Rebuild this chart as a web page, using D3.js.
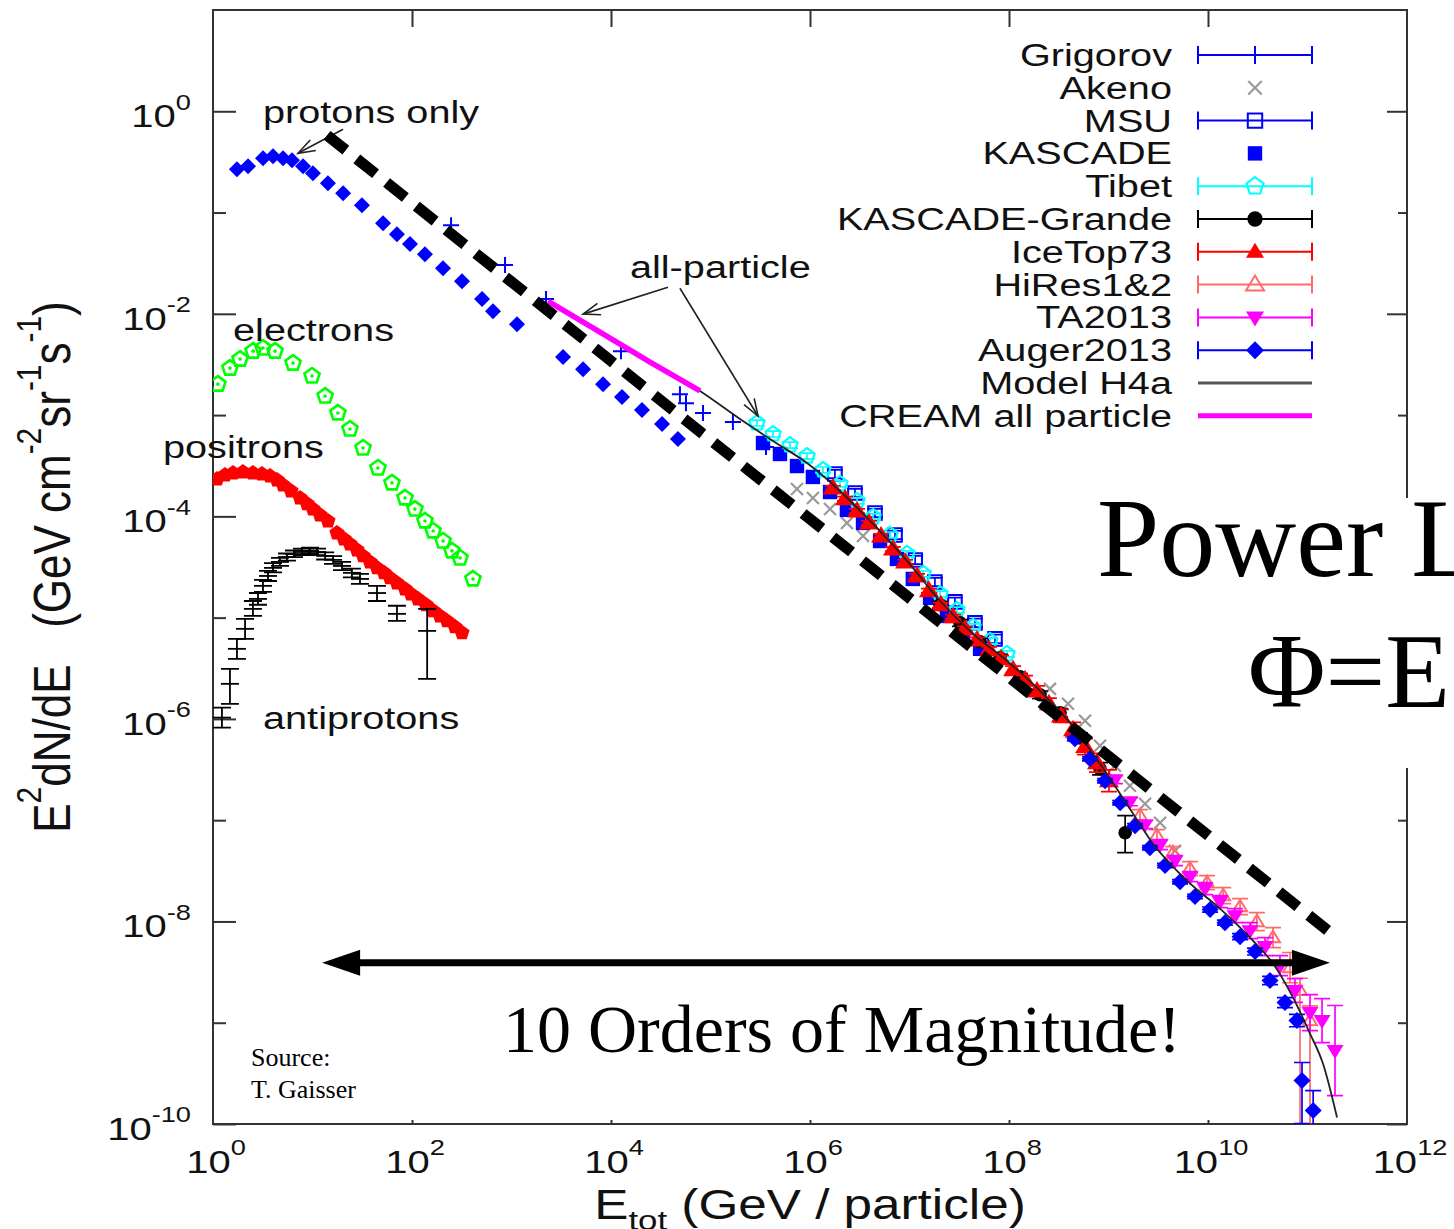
<!DOCTYPE html>
<html>
<head>
<meta charset="utf-8">
<script src="https://cdn.jsdelivr.net/npm/d3@7"></script>
<style>
  body { margin: 0; background: #fff; }
  svg { display: block; }
  text { white-space: pre; }
</style>
</head>
<body>
<svg id="chart" width="1454" height="1229"></svg>
<script>
// ---- data: [E (GeV), E^2 dN/dE] ----
// optional 3rd value = relative error, or 3rd+4th = lower / upper bound
const protons = [[1.74,0.268],[2.25,0.286],[3.18,0.344],[4.01,0.360],[5.06,0.344],[6.22,0.329],[8.04,0.286],[10.1,0.244],[14.3,0.195],[20.3,0.155],[31.4,0.118],[51.2,0.0785],[70.6,0.0611],[95.5,0.0488],[135,0.0388],[205,0.0282],[318,0.0210],[506,0.0140],[652,0.0106],[1135,0.0079],[3296,0.00374],[5236,0.00284],[8318,0.00202],[12900,0.00151],[20500,0.00112],[32600,0.000816],[47100,0.000581]];

const electrons = [[1.12,2.02e-3],[1.48,2.91e-3],[1.87,3.57e-3],[2.53,4.28e-3],[3.18,4.59e-3],[4.20,4.28e-3],[6.37,3.26e-3],[9.89,2.43e-3],[13.4,1.54e-3],[18.0,1.05e-3],[23.8,7.28e-4],[32.2,4.73e-4],[45.5,3.00e-4],[62.9,2.14e-4],[85.1,1.52e-4],[107,1.18e-4],[135,9.01e-5],[163,7.18e-5],[205,5.71e-5],[252,4.56e-5],[304,3.88e-5],[410,2.41e-5]];

const positrons = [[1.10,2.34e-4],[1.32,2.56e-4],[1.59,2.68e-4],[2.00,2.74e-4],[2.52,2.68e-4],[3.11,2.62e-4],[3.74,2.50e-4],[4.40,2.29e-4],[5.06,2.04e-4],[6.08,1.78e-4],[7.49,1.52e-4],[8.81,1.33e-4],[10.1,1.18e-4],[11.9,1.03e-4],[14.3,9.01e-5],[17.6,6.86e-5],[20.7,5.98e-5],[23.8,5.34e-5],[28.0,4.66e-5],[32.2,4.07e-5],[37.8,3.55e-5],[44.5,3.10e-5],[52.3,2.77e-5],[60.1,2.47e-5],[70.6,2.20e-5],[85.1,1.92e-5],[97.7,1.71e-5],[115,1.53e-5],[138,1.34e-5],[163,1.17e-5],[191,1.04e-5],[225,9.29e-6],[270,8.11e-6],[318,7.08e-6]];

const antiprotons = [[1.23,1.03e-6,8.2e-7,1.29e-6],[1.48,2.22e-6,1.41e-6,3.12e-6],[1.74,4.92e-6,3.92e-6,6.17e-6],[2.10,7.75e-6,6.17e-6,9.72e-6],[2.52,1.22e-5,1.04e-5,1.46e-5],[2.83,1.53e-5,1.34e-5,1.75e-5],[3.18,2.06e-5,1.80e-5,2.36e-5],[3.57,2.58e-5,2.30e-5,2.90e-5],[4.01,3.10e-5,2.80e-5,3.45e-5],[4.71,3.55e-5,3.25e-5,3.90e-5],[5.54,3.97e-5,3.65e-5,4.30e-5],[6.52,4.25e-5,3.95e-5,4.60e-5],[7.84,4.45e-5,4.15e-5,4.80e-5],[9.44,4.56e-5,4.25e-5,4.90e-5],[11.1,4.45e-5,4.15e-5,4.80e-5],[13.4,4.07e-5,3.75e-5,4.40e-5],[16.1,3.72e-5,3.40e-5,4.05e-5],[19.8,3.24e-5,2.95e-5,3.55e-5],[24.9,2.77e-5,2.50e-5,3.05e-5],[30.0,2.41e-5,2.15e-5,2.70e-5],[44.5,1.75e-5,1.46e-5,2.06e-5],[70.6,1.09e-5,9.29e-6,1.31e-5],[142,7.40e-6,2.49e-6,1.22e-5]];

const grigorov = [[247,0.0750],[861,0.0303],[2223,0.0140],[12600,4.28e-3],[49300,1.61e-3],[56700,1.31e-3],[84100,1.05e-3],[1.68e5,8.54e-4],[3.61e5,4.84e-4]];

const akeno = [[7.40e5,1.86e-4],[1.07e6,1.52e-4],[1.59e6,1.18e-4],[2.35e6,8.61e-5],[3.41e6,6.41e-5],[2.58e8,1.98e-6,1.73e-6,2.27e-6],[3.92e8,1.41e-6,1.23e-6,1.62e-6],[5.81e8,9.57e-7,7.98e-7,1.15e-6],[8.22e8,5.43e-7,4.33e-7,6.81e-7],[1.16e9,3.44e-7,2.63e-7,4.51e-7],[1.64e9,2.19e-7,1.55e-7,3.09e-7],[2.33e9,1.45e-7,9.67e-8,2.18e-7],[3.30e9,9.44e-8,5.36e-8,1.66e-7],[4.66e9,5.00e-8,2.02e-8,1.24e-7]];

const msu = [[1.78e6,2.62e-4,.1],[2.83e6,1.70e-4,.1],[4.50e6,1.08e-4,.1],[7.15e6,6.55e-5,.1],[1.14e7,3.71e-5,.1],[1.80e7,2.25e-5,.1],[2.86e7,1.43e-5,.1],[4.55e7,8.87e-6,.1],[7.23e7,6.17e-6,.1]];

const kascade = [[3.37e5,5.30e-4],[4.99e5,4.13e-4],[7.40e5,3.14e-4],[1.07e6,2.45e-4],[1.59e6,1.74e-4],[2.35e6,1.16e-4],[3.41e6,8.61e-5],[5.06e6,5.71e-5],[7.48e6,3.80e-5],[1.08e7,2.41e-5],[1.61e7,1.57e-5],[2.38e7,1.04e-5],[3.45e7,7.08e-6],[5.12e7,4.92e-6]];

const tibet = [[2.93e5,8.35e-4,.07],[4.25e5,6.50e-4,.07],[6.30e5,5.06e-4,.07],[9.33e5,3.94e-4,.07],[1.35e6,2.87e-4,.07],[2.00e6,2.09e-4,.07],[2.97e6,1.42e-4,.07],[4.30e6,9.87e-5,.07],[6.37e6,6.55e-5,.07],[9.44e6,4.26e-5,.07],[1.37e7,2.70e-5,.07],[2.03e7,1.71e-5,.07],[3.00e7,1.19e-5,.07],[4.35e7,8.11e-6,.07],[6.44e7,5.90e-6,.07],[9.55e7,4.39e-6,.07]];

const kascadeGrande = [[2.03e7,1.34e-5,.08],[3.22e7,8.87e-6,.08],[5.12e7,5.77e-6,.08],[8.13e7,4.01e-6,.08],[1.29e8,2.60e-6,.08],[2.05e8,1.73e-6,.09],[3.26e8,1.15e-6,.1],[5.17e8,6.50e-7,.12],[8.22e8,3.22e-7,.15],[1.47e9,7.52e-8,4.78e-8,1.11e-7]];

const iceTop73 = [[1.70e6,1.91e-4,.05],[2.25e6,1.49e-4,.05],[2.97e6,1.13e-4,.05],[3.92e6,8.61e-5,.05],[5.18e6,6.41e-5,.05],[6.82e6,4.77e-5,.05],[9.02e6,3.55e-5,.05],[1.19e7,2.58e-5,.05],[1.57e7,1.84e-5,.05],[2.07e7,1.34e-5,.05],[2.74e7,1.02e-5,.05],[3.61e7,7.74e-6,.06],[4.77e7,6.03e-6,.06],[6.30e7,4.81e-6,.07],[8.32e7,3.92e-6,.08],[1.10e8,3.05e-6,.09],[1.45e8,2.43e-6,.1],[1.91e8,1.89e-6,.12],[2.52e8,1.41e-6,.14],[3.33e8,1.07e-6,.16],[4.40e8,7.82e-7,.18],[5.81e8,5.31e-7,.2],[7.66e8,3.69e-7,.24],[1.01e9,2.45e-7,.28]];

const hiRes = [[2.07e9,1.11e-7,.146],[3.07e9,7.03e-8,.146],[4.45e9,4.78e-8,.146],[6.59e9,3.32e-8,.172],[9.77e9,2.42e-8,.172],[1.42e10,1.80e-8,.2],[2.10e10,1.40e-8,.2],[3.10e10,9.95e-9,.227],[4.50e10,6.92e-9,.255],[6.67e10,3.50e-9,.41],[8.41e10,2.08e-9,5e-11,2.75e-9],[1.06e11,1.05e-9,5e-11,1.47e-9]];

const ta2013 = [[1.16e9,2.51e-7,.095],[1.64e9,1.52e-7,.095],[2.33e9,9.02e-8,.095],[3.30e9,5.73e-8,.12],[4.66e9,3.98e-8,.12],[6.59e9,2.77e-8,.12],[9.33e9,2.11e-8,.146],[1.32e10,1.57e-8,.146],[1.87e10,1.14e-8,.172],[2.64e10,8.11e-9,.2],[3.74e10,5.64e-9,.227],[5.29e10,3.66e-9,.255],[7.48e10,2.08e-9,.31],[1.06e11,1.26e-9,.505],[1.40e11,1.05e-9,.65],[1.89e11,5.31e-10,1.91e-10,1.48e-9]];

const auger2013 = [[4.60e8,6.36e-7,.05],[6.52e8,4.04e-7,.05],[9.23e8,2.45e-7,.05],[1.31e9,1.49e-7,.05],[1.85e9,8.81e-8,.05],[2.61e9,5.35e-8,.05],[3.70e9,3.56e-8,.05],[5.24e9,2.47e-8,.05],[7.40e9,1.76e-8,.05],[1.05e10,1.31e-8,.06],[1.48e10,9.73e-9,.06],[2.10e10,7.08e-9,.07],[2.97e10,5.04e-9,.08],[4.20e10,2.61e-9,.1],[5.94e10,1.58e-9,.12],[7.83e10,1.05e-9,.15],[8.81e10,2.69e-10,1.01e-10,4.05e-10],[1.14e11,1.36e-10,5e-11,2.14e-10]];

const modelH4a = [[2.33e3,1.33e-2],[7.75e3,6.60e-3],[2.47e4,3.34e-3],[7.84e4,1.73e-3],[1.98e5,9.14e-4],[4.25e5,5.55e-4],[9.33e5,3.36e-4],[2.00e6,1.78e-4],[4.30e6,8.41e-5],[9.44e6,3.63e-5],[2.03e7,1.46e-5],[4.35e7,6.91e-6],[9.55e7,3.74e-6],[2.05e8,1.89e-6],[4.10e8,9.16e-7],[8.22e8,3.60e-7],[1.64e9,1.30e-7],[2.80e9,5.86e-8],[6.15e9,2.53e-8],[1.32e10,1.34e-8],[2.83e10,6.47e-9],[4.50e10,3.84e-9],[7.15e10,1.77e-9],[1.06e11,7.81e-10],[1.43e11,3.95e-10],[1.98e11,1.16e-10]];

const creamAll = [[2.33e3,1.33e-2],[7.75e3,6.60e-3],[2.47e4,3.34e-3],[7.84e4,1.73e-3]];

// reference power law (dashed) and the "10 orders" span arrow
const powerLawRef = [[14.0,0.580],[2.03e11,6.76e-9]];
const spanArrow = [[12.5,3.92e-9],[1.68e11,3.92e-9]];

const xTickExp = [0, 2, 4, 6, 8, 10, 12];
const yTickExp = [0, -2, -4, -6, -8, -10];
const yMinorExp = [-1, -3, -5, -7, -9];

const legendNames = ["Grigorov","Akeno","MSU","KASCADE","Tibet","KASCADE-Grande","IceTop73","HiRes1&2","TA2013","Auger2013","Model H4a","CREAM all particle"];

const curveLabels = [
  { text: "protons only", at: [3.18, 0.762] },
  { text: "electrons", at: [1.59, 5.38e-3] },
  { text: "positrons", at: [0.314, 3.77e-4] },
  { text: "antiprotons", at: [3.18, 7.98e-7] },
  { text: "all-particle", at: [1.55e4, 2.25e-2] },
];
const labelArrows = [
  [[20.3, 0.664], [7.15, 0.385]],
  [[3.74e4, 1.83e-2], [5.24e3, 9.93e-3]],
  [[4.93e4, 1.79e-2], [3.00e5, 9.79e-4]],
];

// ---- styles ----
const style = {
  "Grigorov":       { color: "#0000ff", marker: "plus", bars: true },
  "Akeno":          { color: "#999999", marker: "cross", bars: false },
  "MSU":            { color: "#0000ff", marker: "openSquare", bars: true },
  "KASCADE":        { color: "#0000ff", marker: "filledSquare", bars: false },
  "Tibet":          { color: "#00ffff", marker: "openPentagon", bars: true },
  "KASCADE-Grande": { color: "#000000", marker: "filledCircle", bars: true },
  "IceTop73":       { color: "#ff0000", marker: "filledTriangle", bars: true },
  "HiRes1&2":       { color: "#ff6a6a", marker: "openTriangle", bars: true },
  "TA2013":         { color: "#ff00ff", marker: "filledInvTriangle", bars: true },
  "Auger2013":      { color: "#0000ff", marker: "filledDiamond", bars: true },
  "Model H4a":      { color: "#555555", line: 3 },
  "CREAM all particle": { color: "#ff00ff", line: 5 },
};
const seriesData = {
  "Grigorov": grigorov, "Akeno": akeno, "MSU": msu, "KASCADE": kascade, "Tibet": tibet,
  "KASCADE-Grande": kascadeGrande, "IceTop73": iceTop73, "HiRes1&2": hiRes,
  "TA2013": ta2013, "Auger2013": auger2013,
};
const plotSize = { "Grigorov": 8, "Akeno": 8, "MSU": 8.5, "KASCADE": 9, "Tibet": 8, "KASCADE-Grande": 8,
  "IceTop73": 10, "HiRes1&2": 7, "TA2013": 8.5, "Auger2013": 8.5 };

const SX = 1.28; // the gnuplot text in the picture is stretched sideways
const sans = "'Liberation Sans', Arial, Helvetica, sans-serif";
const serif = "'Liberation Serif', 'Times New Roman', serif";

const svg = d3.select("#chart");
const x = d3.scaleLog().domain([1, 1e12]).range([213, 1407]);
const y = d3.scaleLog().domain([1e-10, 10]).range([1124, 10]);
const [plotL, plotR] = x.range();
const [plotB, plotT] = y.range();
const P = (d) => [x(d[0]), y(d[1])];

function richText(parent, px, py, parts, opts) {
  const sx = opts.sx ?? SX;
  const tr = `translate(${px},${py}) scale(${sx},1)` + (opts.rotate ? ` rotate(${opts.rotate})` : "");
  const t = parent.append("text")
    .attr("transform", tr)
    .attr("text-anchor", opts.anchor || "start")
    .attr("font-family", opts.family || sans)
    .attr("font-size", opts.size)
    .attr("fill", opts.color || "#111");
  let shift = 0;
  parts.forEach((p) => {
    const [str, kind] = Array.isArray(p) ? p : [p, null];
    const target = kind === "sup" ? -opts.size * (opts.supRaise ?? 0.55) : kind === "sub" ? opts.size * 0.25 : 0;
    t.append("tspan")
      .attr("dy", target - shift)
      .attr("font-size", kind ? opts.size * 0.68 : opts.size)
      .text(str);
    shift = target;
  });
  return t;
}

function drawMarker(g, type, cx, cy, color, s) {
  const el = (d) => g.append("path").attr("d", d);
  const poly = (pts) => "M" + pts.map((p) => p.join(",")).join("L") + "Z";
  const pent = d3.range(5).map((k) => {
    const a = -Math.PI / 2 + (k * 2 * Math.PI) / 5;
    return [cx + s * Math.cos(a), cy + s * Math.sin(a)];
  });
  const sq = [[cx - s * 0.8, cy - s * 0.8], [cx + s * 0.8, cy - s * 0.8], [cx + s * 0.8, cy + s * 0.8], [cx - s * 0.8, cy + s * 0.8]];
  switch (type) {
    case "plus":
      el(`M${cx - s},${cy}H${cx + s}M${cx},${cy - s}V${cy + s}`).attr("stroke", color).attr("stroke-width", 2).attr("fill", "none");
      break;
    case "cross":
      el(`M${cx - s * 0.75},${cy - s * 0.75}L${cx + s * 0.75},${cy + s * 0.75}M${cx - s * 0.75},${cy + s * 0.75}L${cx + s * 0.75},${cy - s * 0.75}`)
        .attr("stroke", color).attr("stroke-width", 2.2).attr("fill", "none");
      break;
    case "openSquare":
      el(poly(sq)).attr("stroke", color).attr("stroke-width", 2).attr("fill", "none");
      break;
    case "filledSquare":
      el(poly(sq)).attr("fill", color);
      break;
    case "openPentagon":
      el(poly(pent)).attr("stroke", color).attr("stroke-width", 2.2).attr("fill", "none");
      break;
    case "dotPentagon":
      el(poly(pent)).attr("stroke", color).attr("stroke-width", 2.6).attr("fill", "none");
      g.append("circle").attr("cx", cx).attr("cy", cy).attr("r", 1.8).attr("fill", color);
      break;
    case "filledPentagon":
      el(poly(pent)).attr("fill", color);
      break;
    case "filledCircle":
      g.append("circle").attr("cx", cx).attr("cy", cy).attr("r", s * 0.85).attr("fill", color);
      break;
    case "filledTriangle":
      el(poly([[cx, cy - s], [cx + s, cy + s * 0.65], [cx - s, cy + s * 0.65]])).attr("fill", color);
      break;
    case "openTriangle":
      el(poly([[cx, cy - s], [cx + s, cy + s * 0.65], [cx - s, cy + s * 0.65]])).attr("stroke", color).attr("stroke-width", 2).attr("fill", "none");
      break;
    case "filledInvTriangle":
      el(poly([[cx, cy + s], [cx + s, cy - s * 0.65], [cx - s, cy - s * 0.65]])).attr("fill", color);
      break;
    case "filledDiamond":
      el(poly([[cx, cy - s], [cx + s, cy], [cx, cy + s], [cx - s, cy]])).attr("fill", color);
      break;
  }
}

function bounds(d) {
  if (d.length >= 4) return [d[2], d[3]];
  if (d.length === 3) return [d[1] / (1 + d[2]), d[1] * (1 + d[2])];
  return null;
}

function errorBar(g, d, color, cap, width) {
  const b = bounds(d);
  if (!b) return;
  const cx = x(d[0]);
  const y1 = y(b[0]), y2 = y(b[1]);
  g.append("path")
    .attr("d", `M${cx},${y1}V${y2}M${cx - cap},${y1}H${cx + cap}M${cx - cap},${y2}H${cx + cap}`)
    .attr("stroke", color).attr("stroke-width", width || 1.6).attr("fill", "none");
}

function arrowHead(g, x1, y1, x2, y2, len, half, filled) {
  const a = Math.atan2(y2 - y1, x2 - x1);
  const bx = x2 - len * Math.cos(a), by = y2 - len * Math.sin(a);
  const p1 = [bx + half * Math.sin(a), by - half * Math.cos(a)];
  const p2 = [bx - half * Math.sin(a), by + half * Math.cos(a)];
  if (filled) {
    g.append("path").attr("d", `M${x2},${y2}L${p1}L${p2}Z`).attr("fill", "#000");
  } else {
    g.append("path").attr("d", `M${p1}L${x2},${y2}L${p2}`)
      .attr("fill", "none").attr("stroke", "#222").attr("stroke-width", 1.6);
  }
}

// ---- axes ----
const axisG = svg.append("g").attr("class", "axes");
const tickStyle = (sel) => {
  sel.select(".domain").remove();
  sel.selectAll(".tick line").attr("stroke", "#333").attr("stroke-width", 2);
};
const pow10 = (e) => Math.pow(10, e);

axisG.append("g").attr("transform", `translate(${plotL},0)`)
  .call(d3.axisLeft(y).tickValues(yTickExp.map(pow10)).tickSize(-23).tickFormat(""))
  .call(tickStyle);
axisG.append("g").attr("transform", `translate(${plotL},0)`)
  .call(d3.axisLeft(y).tickValues(yMinorExp.map(pow10)).tickSize(-13).tickFormat(""))
  .call(tickStyle);
axisG.append("g").attr("transform", `translate(${plotR},0)`)
  .call(d3.axisRight(y).tickValues(yTickExp.map(pow10)).tickSize(-20).tickFormat(""))
  .call(tickStyle);
axisG.append("g").attr("transform", `translate(${plotR},0)`)
  .call(d3.axisRight(y).tickValues(yMinorExp.map(pow10)).tickSize(-9).tickFormat(""))
  .call(tickStyle);
axisG.append("g").attr("transform", `translate(0,${plotT})`)
  .call(d3.axisTop(x).tickValues(xTickExp.slice(1, -1).map(pow10)).tickSize(-17).tickFormat(""))
  .call(tickStyle);
axisG.append("g").attr("transform", `translate(0,${plotB})`)
  .call(d3.axisBottom(x).tickValues(xTickExp.slice(1, -1).map(pow10)).tickSize(-4).tickFormat(""))
  .call(tickStyle);

axisG.append("rect")
  .attr("x", plotL).attr("y", plotT)
  .attr("width", plotR - plotL).attr("height", plotB - plotT)
  .attr("fill", "none").attr("stroke", "#333").attr("stroke-width", 2);

yTickExp.forEach((e) => {
  richText(axisG, plotL - 22, y(pow10(e)) + 16, ["10", [String(e), "sup"]], { anchor: "end", size: 32, sx: 1.25 });
});
xTickExp.forEach((e) => {
  richText(axisG, x(pow10(e)) + 3, plotB + 49, ["10", [String(e), "sup"]], { anchor: "middle", size: 32, sx: 1.25 });
});

richText(axisG, (plotL + plotR) / 2, 1219, ["E", ["tot", "sub"], " (GeV / particle)"], { anchor: "middle", size: 42, sx: 1.22 });
richText(axisG, 70, 567, ["E", ["2", "sup"], "dN/dE   (GeV cm", ["-2", "sup"], "sr", ["-1", "sup"], "s", ["-1", "sup"], ")"],
  { anchor: "middle", size: 44, rotate: -90, sx: 1.18 });

// ---- data ----
svg.append("clipPath").attr("id", "plotClip")
  .append("rect").attr("x", plotL).attr("y", plotT).attr("width", plotR - plotL).attr("height", plotB - plotT);
const dataG = svg.append("g").attr("clip-path", "url(#plotClip)");

protons.forEach((d) => drawMarker(dataG, "filledDiamond", ...P(d), "#0000ff", 8));
electrons.forEach((d) => drawMarker(dataG, "dotPentagon", ...P(d), "#00ff00", 8));
positrons.forEach((d) => drawMarker(dataG, "filledPentagon", ...P(d), "#ff0000", 8));
antiprotons.forEach((d) => {
  errorBar(dataG, d, "#000", 9, 1.8);
  const [cx, cy] = P(d);
  dataG.append("path").attr("d", `M${cx - 9},${cy}H${cx + 9}`).attr("stroke", "#000").attr("stroke-width", 1.8);
});

const lineGen = d3.line().x((d) => x(d[0])).y((d) => y(d[1])).curve(d3.curveMonotoneX);

legendNames.forEach((name) => {
  const st = style[name];
  if (st.line) {
    const data = name === "Model H4a" ? modelH4a : creamAll;
    dataG.append("path").datum(data).attr("d", lineGen)
      .attr("fill", "none")
      .attr("stroke", name === "Model H4a" ? "#222" : st.color)
      .attr("stroke-width", name === "Model H4a" ? 1.8 : 5.5);
    return;
  }
  const data = seriesData[name];
  if (st.bars) data.forEach((d) => errorBar(dataG, d, st.color, 8, 1.7));
  data.forEach((d) => drawMarker(dataG, st.marker, ...P(d), st.color, plotSize[name]));
});

// ---- annotations ----
const annG = svg.append("g");
labelArrows.forEach(([a, b]) => {
  const [x1, y1] = P(a), [x2, y2] = P(b);
  annG.append("line").attr("x1", x1).attr("y1", y1).attr("x2", x2).attr("y2", y2)
    .attr("stroke", "#222").attr("stroke-width", 1.6);
  arrowHead(annG, x1, y1, x2, y2, 17, 6, false);
});
curveLabels.forEach((l) => {
  const [lx, ly] = P(l.at);
  richText(annG, lx, ly, [l.text], { size: 31 });
});

annG.append("path").datum(powerLawRef)
  .attr("d", d3.line().x((d) => x(d[0])).y((d) => y(d[1])))
  .attr("fill", "none").attr("stroke", "#000").attr("stroke-width", 11)
  .attr("stroke-dasharray", "24 14");

{
  const [ax1, ay] = P(spanArrow[0]);
  const [ax2] = P(spanArrow[1]);
  annG.append("line").attr("x1", ax1 + 30).attr("y1", ay).attr("x2", ax2 - 30).attr("y2", ay)
    .attr("stroke", "#000").attr("stroke-width", 7);
  arrowHead(annG, ax2, ay, ax1, ay, 38, 13, true);
  arrowHead(annG, ax1, ay, ax2, ay, 38, 13, true);
}

// ---- legend ----
const legG = svg.append("g");
legendNames.forEach((name, i) => {
  const st = style[name];
  const cy = 55 + i * 32.8;
  richText(legG, 1172, cy + 11, [name], { anchor: "end", size: 31 });
  const x1 = 1198, x2 = 1312, cx = 1255;
  if (st.line) {
    legG.append("line").attr("x1", x1).attr("x2", x2).attr("y1", cy).attr("y2", cy)
      .attr("stroke", st.color).attr("stroke-width", st.line);
    return;
  }
  if (st.bars) {
    legG.append("path")
      .attr("d", `M${x1},${cy}H${x2}M${x1},${cy - 9}V${cy + 9}M${x2},${cy - 9}V${cy + 9}`)
      .attr("stroke", st.color).attr("stroke-width", 2).attr("fill", "none");
  }
  drawMarker(legG, st.marker, cx, cy, st.color, 9);
});

// ---- overlaid slide text ----
const slideG = svg.append("g");
slideG.append("rect").attr("x", 1088).attr("y", 498).attr("width", 400).attr("height", 100).attr("fill", "#fff");
slideG.append("rect").attr("x", 1240).attr("y", 598).attr("width", 300).attr("height", 170).attr("fill", "#fff");
richText(slideG, 1097, 576, ["Power Law"], { family: serif, size: 112, sx: 1, color: "#000" });
richText(slideG, 1248, 707, ["\u03A6=E"], { family: serif, size: 106, sx: 1, color: "#000" });
richText(slideG, 503, 1052, ["10 Orders of Magnitude!"], { family: serif, size: 68, sx: 1, color: "#000" });
richText(slideG, 251, 1066, ["Source:"], { family: serif, size: 26, sx: 1, color: "#000" });
richText(slideG, 251, 1098, ["T. Gaisser"], { family: serif, size: 26, sx: 1, color: "#000" });
</script>
</body>
</html>
